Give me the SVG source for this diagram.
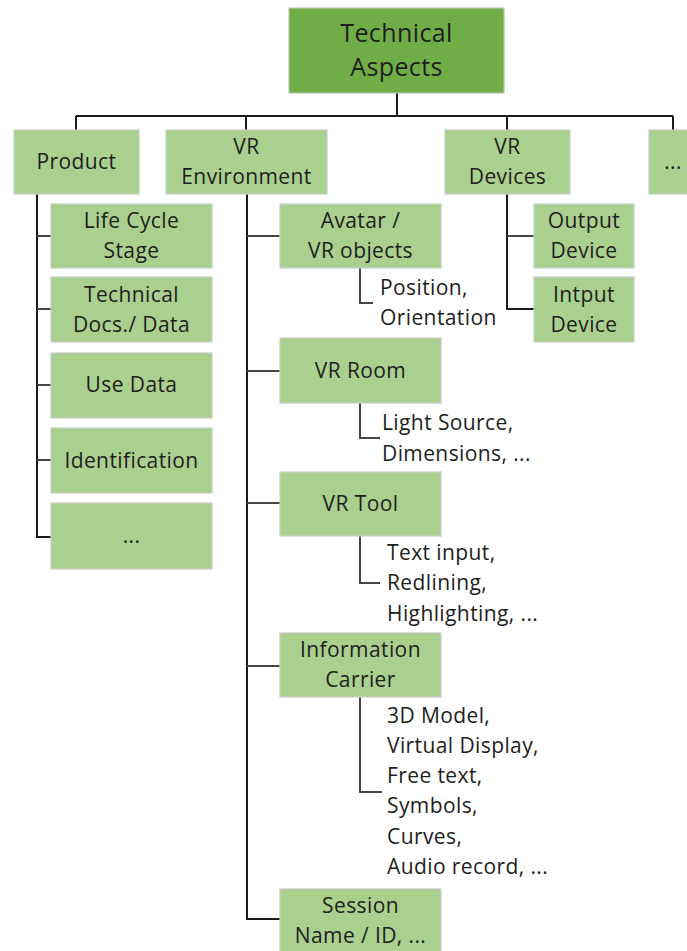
<svg xmlns="http://www.w3.org/2000/svg" width="687" height="951" viewBox="0 0 687 951">
<style>
.box{fill:#A9D08E;stroke:#c8cdc4;stroke-width:1.2}
.top{fill:#70AD47;stroke:#b9c4b0;stroke-width:1.2}
text{font-family:"Open Sans","Liberation Sans",sans-serif;font-size:21px;fill:#1e1e1e;letter-spacing:0.4px}
.c{text-anchor:middle}
.big{font-size:25px}
.ln{fill:none;stroke:#1a1a1a;stroke-width:2}
.tk{fill:none;stroke:#444;stroke-width:2}
</style>
<rect width="687" height="951" fill="#ffffff"/>
<g id="connectors">
<path class="ln" d="M397 93V116M76 116H673M76 116V130M246 116V130M507 116V130M673 116V130"/>
<path class="ln" d="M37 194V537H51"/>
<path class="tk" d="M37 236H51M37 309H51M37 385H51M37 460H51"/>
<path class="ln" d="M247 194V919H280"/>
<path class="tk" d="M247 236H280M247 371H280M247 503H280M247 666H280"/>
<path class="ln" d="M507 194V309H534"/>
<path class="tk" d="M507 236H534"/>
<path class="tk" d="M360 268V303H373M360 403V438H380M360 536V583H380M360 697V792H382"/>
</g>
<g id="technical-aspects"><rect class="top" x="289" y="8" width="215" height="85"/><text class="c big" x="396.5" y="42">Technical</text><text class="c big" x="396.5" y="76">Aspects</text></g>
<g id="product"><rect class="box" x="14" y="130" width="125" height="64"/><text class="c" x="76.5" y="169">Product</text></g>
<g id="vr-environment"><rect class="box" x="166" y="130" width="161" height="64"/><text class="c" x="246.5" y="154">VR</text><text class="c" x="246.5" y="184">Environment</text></g>
<g id="vr-devices"><rect class="box" x="445" y="130" width="125" height="64"/><text class="c" x="507.5" y="154">VR</text><text class="c" x="507.5" y="184">Devices</text></g>
<g id="more-top"><rect class="box" x="649" y="130" width="125" height="64"/><text class="c" x="673" y="169">...</text></g>
<g id="life-cycle"><rect class="box" x="51" y="204" width="161" height="64"/><text class="c" x="131.5" y="228">Life Cycle</text><text class="c" x="131.5" y="258">Stage</text></g>
<g id="tech-docs"><rect class="box" x="51" y="277" width="161" height="65"/><text class="c" x="131.5" y="302">Technical</text><text class="c" x="131.5" y="332">Docs./ Data</text></g>
<g id="use-data"><rect class="box" x="51" y="353" width="161" height="65"/><text class="c" x="131.5" y="392">Use Data</text></g>
<g id="identification"><rect class="box" x="51" y="428" width="161" height="65"/><text class="c" x="131.5" y="468">Identification</text></g>
<g id="more-product"><rect class="box" x="51" y="503" width="161" height="66"/><text class="c" x="131.5" y="543">...</text></g>
<g id="avatar"><rect class="box" x="280" y="204" width="161" height="64"/><text class="c" x="360.5" y="228">Avatar /</text><text class="c" x="360.5" y="258">VR objects</text></g>
<g id="avatar-details"><text x="380" y="295">Position,</text><text x="380" y="325">Orientation</text></g>
<g id="vr-room"><rect class="box" x="280" y="338" width="161" height="65"/><text class="c" x="360.5" y="378">VR Room</text></g>
<g id="room-details"><text x="382" y="430">Light Source,</text><text x="382" y="461">Dimensions, ...</text></g>
<g id="vr-tool"><rect class="box" x="280" y="472" width="161" height="64"/><text class="c" x="360.5" y="511">VR Tool</text></g>
<g id="tool-details"><text x="387" y="560">Text input,</text><text x="387" y="590">Redlining,</text><text x="387" y="621">Highlighting, ...</text></g>
<g id="info-carrier"><rect class="box" x="280" y="633" width="161" height="64"/><text class="c" x="360.5" y="657">Information</text><text class="c" x="360.5" y="687">Carrier</text></g>
<g id="carrier-details"><text x="387" y="723">3D Model,</text><text x="387" y="753">Virtual Display,</text><text x="387" y="783">Free text,</text><text x="387" y="813">Symbols,</text><text x="387" y="844">Curves,</text><text x="387" y="874">Audio record, ...</text></g>
<g id="session"><rect class="box" x="280" y="889" width="161" height="64"/><text class="c" x="360.5" y="913">Session</text><text class="c" x="360.5" y="943">Name / ID, ...</text></g>
<g id="output-device"><rect class="box" x="534" y="204" width="100" height="64"/><text class="c" x="584" y="228">Output</text><text class="c" x="584" y="258">Device</text></g>
<g id="input-device"><rect class="box" x="534" y="277" width="100" height="65"/><text class="c" x="584" y="302">Intput</text><text class="c" x="584" y="332">Device</text></g>
</svg>
